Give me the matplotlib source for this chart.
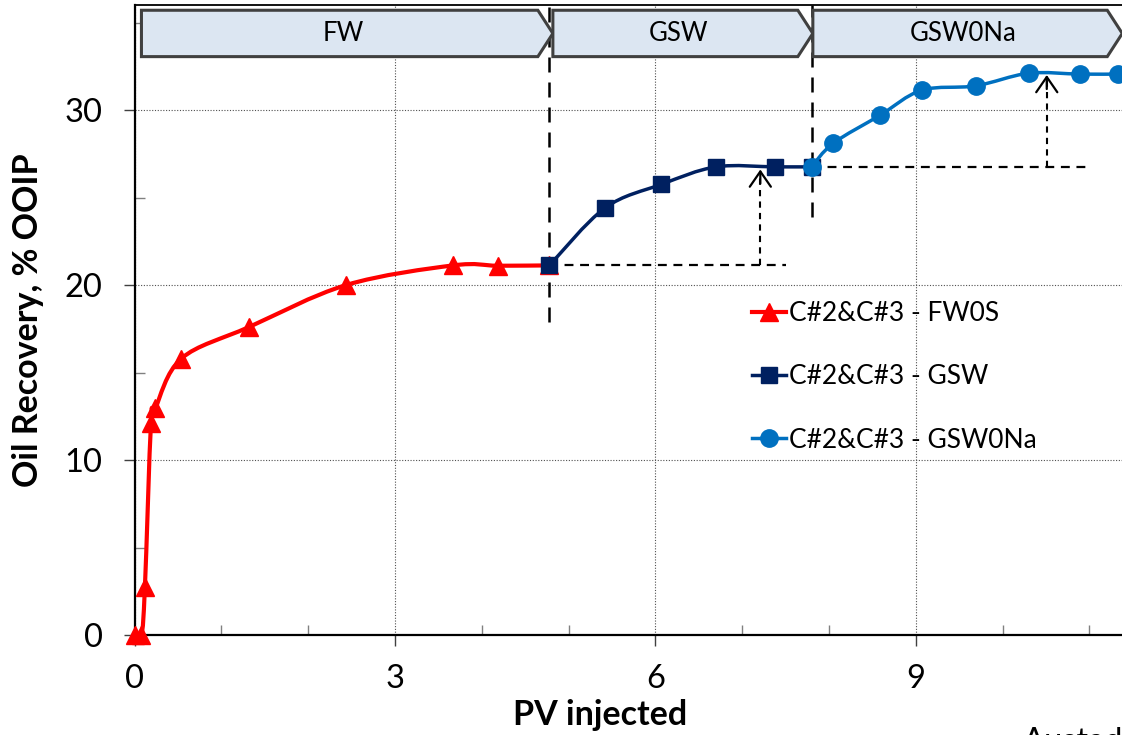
import numpy as np
import matplotlib.pyplot as plt
from matplotlib.path import Path
from matplotlib.patches import PathPatch, Polygon
from matplotlib.lines import Line2D

plt.rcParams['font.family'] = ['Lato', 'DejaVu Sans']

# Oil recovery (% OOIP) vs pore volumes injected
fw_pv = [0.0, 0.08, 0.12, 0.19, 0.24, 0.54, 1.32, 2.44, 3.67, 4.19, 4.78]
fw_rec = [0.0, 0.0, 2.75, 12.1, 12.95, 15.8, 17.6, 20.0, 21.12, 21.1, 21.12]
gsw_pv = [4.78, 5.42, 6.07, 6.70, 7.38, 7.80]
gsw_rec = [21.12, 24.4, 25.75, 26.75, 26.75, 26.75]
gsw0na_pv = [7.80, 8.05, 8.59, 9.07, 9.69, 10.30, 10.89, 11.33]
gsw0na_rec = [26.75, 28.1, 29.7, 31.13, 31.38, 32.1, 32.05, 32.05]

labels = ['C#2&C#3 - FW0S', 'C#2&C#3 - GSW', 'C#2&C#3 - GSW0Na']

# injection phases shown as chevrons on top
phase_names = ['FW', 'GSW', 'GSW0Na']
phase_start = [0.08, 4.82, 7.815]
phase_end = [4.82, 7.815, 11.38]
switch_pv = [4.78, 7.80]


def smooth_path(x, y):
    # Excel-like smoothed line (Catmull-Rom as cubic Bezier segments)
    p = np.column_stack([x, y])
    pp = np.vstack([p[0], p, p[-1]])
    verts, codes = [p[0]], [Path.MOVETO]
    for i in range(1, len(pp) - 2):
        c1 = pp[i] + (pp[i + 1] - pp[i - 1]) / 6
        c2 = pp[i + 1] - (pp[i + 2] - pp[i]) / 6
        verts += [c1, c2, pp[i + 1]]
        codes += [Path.CURVE4] * 3
    return Path(verts, codes)


fig = plt.figure(figsize=(11.22, 7.35), dpi=100)
ax = fig.add_axes([134.5 / 1122, 100 / 735, 998.2 / 1122, 630 / 735])
ax.set_xlim(0, 11.5)
ax.set_ylim(0, 36)

series = [(fw_pv, fw_rec, '#FF0000', '^', 12.5, 3.0),
          (gsw_pv, gsw_rec, '#002060', 's', 12, 2.5),
          (gsw0na_pv, gsw0na_rec, '#0070C0', 'o', 12.5, 2.5)]
handles = []
for k, (x, y, c, m, ms, lw) in enumerate(series):
    ax.add_patch(PathPatch(smooth_path(x, y), fill=False, edgecolor=c, lw=lw, zorder=4 + k,
                           capstyle='round', joinstyle='round'))
    ax.plot(x, y, ls='none', marker=m, ms=ms, color=c, zorder=4.5 + k, clip_on=False)
    handles.append(Line2D([], [], color=c, lw=lw, marker=m, ms=ms))

# phase switch lines and incremental recovery arrows
for xs, ybot in zip(switch_pv, [17.9, 23.9]):
    ax.plot([xs, xs], [ybot, 36], color='k', lw=1.8, ls=(0, (6, 4)), zorder=2)
ax.plot([gsw_pv[0], 7.51], [gsw_rec[0]] * 2, color='k', lw=1.6, ls=(0, (4, 3)), zorder=3)
ax.plot([gsw0na_pv[0], 10.96], [gsw0na_rec[0]] * 2, color='k', lw=1.6, ls=(0, (4, 3)), zorder=3)
for xa, y0, y1 in [(7.21, gsw_rec[0], 26.6), (10.51, gsw0na_rec[0], 32.0)]:
    ax.plot([xa, xa], [y0, y1 - 0.2], color='k', lw=1.5, ls=(0, (3, 2.5)), zorder=3)
    ax.annotate('', xy=(xa, y1), xytext=(xa, y1 - 0.8),
                arrowprops=dict(arrowstyle='->,head_length=0.55,head_width=0.38', lw=1.6,
                                color='k', mutation_scale=20, shrinkA=0, shrinkB=0),
                zorder=3)

tip = 0.173
for name, x0, x1 in zip(phase_names, phase_start, phase_end):
    pts = [(x0, 33.05), (x0, 35.7), (x1 - tip, 35.7), (x1, 34.375), (x1 - tip, 33.05)]
    ax.add_patch(Polygon(pts, closed=True, facecolor='#DCE6F2', edgecolor='#404040', lw=2.2, zorder=6))
    ax.text((x0 + x1) / 2 - 0.05, 34.375, name, ha='center', va='center', fontsize=18.5, zorder=7)

ax.set_xticks([0, 3, 6, 9])
ax.set_xticks([1, 2, 4, 5, 7, 8, 10, 11], minor=True)
ax.set_yticks([0, 10, 20, 30])
ax.set_yticks([5, 15, 25, 35], minor=True)
ax.tick_params(which='major', direction='out', length=8, width=1, color='#404040', labelsize=23.5)
ax.tick_params(axis='x', which='major', pad=13)
ax.tick_params(axis='y', which='major', pad=15)
ax.tick_params(which='minor', direction='in', length=7, width=1, color='#808080')
ax.grid(which='major', color='#505050', lw=0.8, ls=(0, (1, 1.5)))
ax.set_axisbelow(True)

for s in ['left', 'bottom']:
    ax.spines[s].set_linewidth(1.6)
ax.spines['top'].set_linewidth(1.3)
ax.spines['right'].set_visible(False)

ax.set_xlabel('PV injected', fontsize=24.5, fontweight='bold')
ax.set_ylabel('Oil Recovery, % OOIP', fontsize=24.5, fontweight='bold')
ax.xaxis.set_label_coords((600 - 134.5) / 998.2, -0.102)
ax.yaxis.set_label_coords((44 - 134.5) / 998.2, 0.5)

ax.legend(handles, labels, loc='upper left', bbox_to_anchor=((752 - 134.5) / 998.2, (635 - 301) / 630),
          frameon=False, fontsize=19, handlelength=1.3, handletextpad=0.1, labelspacing=1.45,
          borderpad=0, borderaxespad=0)

fig.text(1023 / 1122, (735 - 727) / 735, 'Austad', fontsize=23.5, va='top')

fig.savefig('out.png', dpi=100)
